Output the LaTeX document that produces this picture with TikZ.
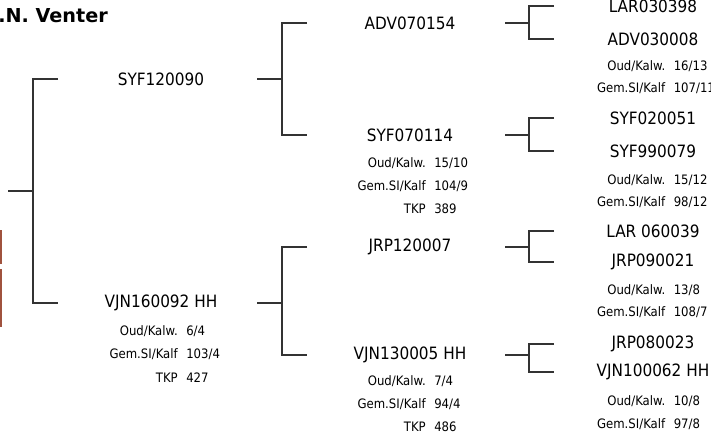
\documentclass[tikz,border=0pt]{standalone}
\usepackage{fontspec}
\setmainfont{DejaVu Sans Condensed}
\newfontfamily\titlefont{DejaVu Sans}
\usepackage{xcolor}
\usepackage{tikz}
\definecolor{bark}{RGB}{160,82,62}

% one line of figures under an animal: key right of the gap, value left of it
\newcommand{\stat}[5]{%
  \node[statkey] (#1k) at (#2,#3) {#4};
  \node[statval] (#1v) at (#2,#3) {#5};}

\begin{document}
\begin{tikzpicture}[
  x=0.75pt, y=-0.75pt,
  title/.style={font=\titlefont\bfseries\fontsize{14.4}{17}\selectfont, inner sep=0pt, anchor=west},
  animal/.style={font=\fontsize{12.75}{15}\selectfont, inner sep=0pt},
  statkey/.style={font=\fontsize{9.75}{12}\selectfont, inner sep=0pt, anchor=base east, xshift=-3pt},
  statval/.style={font=\fontsize{9.75}{12}\selectfont, inner sep=0pt, anchor=base west, xshift=3pt},
  branch/.style={draw=black!80, line width=1.5pt}
]
\clip (0,0) rectangle (711,433);

\node (owner) [title] at (-2,16) {.N. Venter};
\fill[bark] (-4,230) rectangle (2,264);
\fill[bark] (-4,269) rectangle (2,327);

% parents
\node (syf120090) [animal] at (161,79) {SYF120090};
\node (vjn160092) [animal] at (161,303) {VJN160092 HH};
\stat{vjnA}{182}{335.5}{Oud/Kalw.}{6/4}
\stat{vjnB}{182}{358.5}{Gem.SI/Kalf}{103/4}
\stat{vjnC}{182}{382.5}{TKP}{427}

% grandparents
\node (adv070154) [animal] at (410,23) {ADV070154};
\node (syf070114) [animal] at (410,135) {SYF070114};
\stat{syfA}{430}{167.5}{Oud/Kalw.}{15/10}
\stat{syfB}{430}{190.5}{Gem.SI/Kalf}{104/9}
\stat{syfC}{430}{213.5}{TKP}{389}
\node (jrp120007) [animal] at (410,247) {JRP120007};
\node (vjn130005) [animal] at (410,355) {VJN130005 HH};
\stat{vjmA}{430}{385.5}{Oud/Kalw.}{7/4}
\stat{vjmB}{430}{408.5}{Gem.SI/Kalf}{94/4}
\stat{vjmC}{430}{431.5}{TKP}{486}

% great-grandparents
\node (lar030398) [animal] at (653,6) {LAR030398};
\node (adv030008) [animal] at (653,39) {ADV030008};
\stat{advA}{669.5}{70.5}{Oud/Kalw.}{16/13}
\stat{advB}{669.5}{92.5}{Gem.SI/Kalf}{107/11}
\node (syf020051) [animal] at (653,118) {SYF020051};
\node (syf990079) [animal] at (653,151) {SYF990079};
\stat{sysA}{669.5}{184.5}{Oud/Kalw.}{15/12}
\stat{sysB}{669.5}{206.5}{Gem.SI/Kalf}{98/12}
\node (lar060039) [animal] at (653,231) {LAR 060039};
\node (jrp090021) [animal] at (653,262) {JRP090021};
\stat{jrpA}{669.5}{294.5}{Oud/Kalw.}{13/8}
\stat{jrpB}{669.5}{316.5}{Gem.SI/Kalf}{108/7}
\node (jrp080023) [animal] at (653,344) {JRP080023};
\node (vjn100062) [animal] at (653,372) {VJN100062 HH};
\stat{vjkA}{669.5}{405.5}{Oud/Kalw.}{10/8}
\stat{vjkB}{669.5}{428.5}{Gem.SI/Kalf}{97/8}

% brackets
\coordinate (calf) at (8,191);
\draw[branch] (calf) -- (33,0 |- calf);
\draw[branch] (58,0 |- syf120090) -- (33,0 |- syf120090) -- (33,0 |- vjn160092) -- (58,0 |- vjn160092);

\draw[branch] (257,0 |- syf120090) -- (282,0 |- syf120090);
\draw[branch] (307,0 |- adv070154) -- (282,0 |- adv070154) -- (282,0 |- syf070114) -- (307,0 |- syf070114);
\draw[branch] (257,0 |- vjn160092) -- (282,0 |- vjn160092);
\draw[branch] (307,0 |- jrp120007) -- (282,0 |- jrp120007) -- (282,0 |- vjn130005) -- (307,0 |- vjn130005);

\draw[branch] (505,0 |- adv070154) -- (529,0 |- adv070154);
\draw[branch] (554,0 |- lar030398) -- (529,0 |- lar030398) -- (529,0 |- adv030008) -- (554,0 |- adv030008);
\draw[branch] (505,0 |- syf070114) -- (529,0 |- syf070114);
\draw[branch] (554,0 |- syf020051) -- (529,0 |- syf020051) -- (529,0 |- syf990079) -- (554,0 |- syf990079);
\draw[branch] (505,0 |- jrp120007) -- (529,0 |- jrp120007);
\draw[branch] (554,0 |- lar060039) -- (529,0 |- lar060039) -- (529,0 |- jrp090021) -- (554,0 |- jrp090021);
\draw[branch] (505,0 |- vjn130005) -- (529,0 |- vjn130005);
\draw[branch] (554,0 |- jrp080023) -- (529,0 |- jrp080023) -- (529,0 |- vjn100062) -- (554,0 |- vjn100062);

\end{tikzpicture}
\end{document}
